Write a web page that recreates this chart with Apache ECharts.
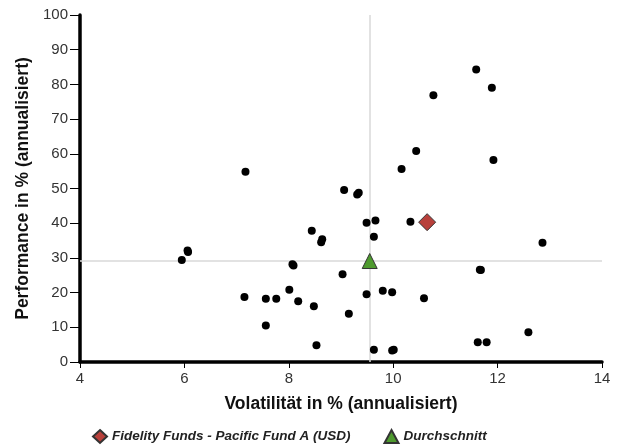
<!DOCTYPE html>
<html><head><meta charset="utf-8">
<script src="https://cdn.jsdelivr.net/npm/echarts@6/dist/echarts.min.js"></script>
<style>html,body{margin:0;padding:0;background:#fff}#c{width:623px;height:448px}</style>
</head><body><div id="c"></div>
<script>
const peerVolatility = [7.17,11.59,11.89,10.77,10.44,10.16,11.92,9.06,9.31,9.34,5.95,6.06,6.07,8.44,8.64,8.62,8.07,8.09,7.15,7.56,7.76,8.01,8.18,8.48,7.56,8.53,9.49,9.66,9.63,10.33,12.86,11.66,11.68,9.03,9.80,9.98,9.49,10.59,9.15,12.59,11.62,11.79,9.63,9.98,10.01];
const peerPerformance = [54.8,84.3,79.0,76.9,60.8,55.6,58.2,49.6,48.3,48.8,29.4,32.1,31.7,37.8,35.4,34.5,28.2,27.8,18.7,18.2,18.2,20.8,17.5,16.1,10.5,4.8,40.1,40.8,36.1,40.4,34.4,26.6,26.5,25.3,20.5,20.1,19.5,18.4,13.9,8.6,5.7,5.7,3.5,3.3,3.5];
const fundName = 'Fidelity Funds - Pacific Fund A (USD)';
const fundPoint = [10.65, 40.3];
const avgName = 'Durchschnitt';
const avgPoint = [9.55, 29.1];
const xTitle = 'Volatilität in % (annualisiert)';
const yTitle = 'Performance in % (annualisiert)';

const font = 'Liberation Sans, Arial, sans-serif';
const chart = echarts.init(document.getElementById('c'), null, {renderer:'canvas'});
chart.setOption({
  animation:false,
  grid:{left:80,right:21,top:15,bottom:86,containLabel:false},
  legend:{
    data:[{name:fundName,icon:'diamond'},{name:avgName,icon:'triangle'}],
    top:424,left:87,itemWidth:14,itemHeight:13,itemGap:33,
    textStyle:{fontFamily:font,fontStyle:'italic',fontWeight:'bold',fontSize:13.5,color:'#222'}
  },
  xAxis:{type:'value',min:4,max:14,interval:2,
    name:xTitle,nameLocation:'middle',nameGap:33,
    nameTextStyle:{fontFamily:font,fontWeight:'bold',fontSize:17.5,color:'#111'},
    axisLine:{show:true,lineStyle:{color:'#000',width:3.5}},
    axisTick:{show:true,length:6,lineStyle:{color:'#000',width:1}},
    axisLabel:{fontFamily:font,fontSize:15,color:'#333',margin:9},
    splitLine:{show:false}},
  yAxis:{type:'value',min:0,max:100,interval:10,
    name:yTitle,nameLocation:'middle',nameGap:46,
    nameTextStyle:{fontFamily:font,fontWeight:'bold',fontSize:17.5,color:'#111'},
    axisLine:{show:true,lineStyle:{color:'#000',width:3.5}},
    axisTick:{show:true,length:10,lineStyle:{color:'#000',width:1}},
    axisLabel:{fontFamily:font,fontSize:15,color:'#333',margin:12},
    splitLine:{show:false}},
  series:[
    {name:'peers',type:'scatter',symbol:'circle',symbolSize:8,z:3,
     itemStyle:{color:'#000',opacity:1},
     data:peerVolatility.map((v,i)=>[v,peerPerformance[i]])},
    {name:avgName,type:'scatter',symbol:'triangle',symbolSize:15,z:4,
     itemStyle:{color:'#4e9a2e',borderColor:'#333',borderWidth:1,opacity:1},
     data:[avgPoint],
     markLine:{silent:true,symbol:'none',z:1,label:{show:false},
       lineStyle:{color:'#d9d9d9',type:'solid',width:1.5},
       data:[{xAxis:avgPoint[0]},{yAxis:avgPoint[1]}]}},
    {name:fundName,type:'scatter',symbol:'diamond',symbolSize:17,z:5,
     itemStyle:{color:'#b8403b',borderColor:'#333',borderWidth:1,opacity:1},
     data:[fundPoint]}
  ]
});
</script></body></html>
